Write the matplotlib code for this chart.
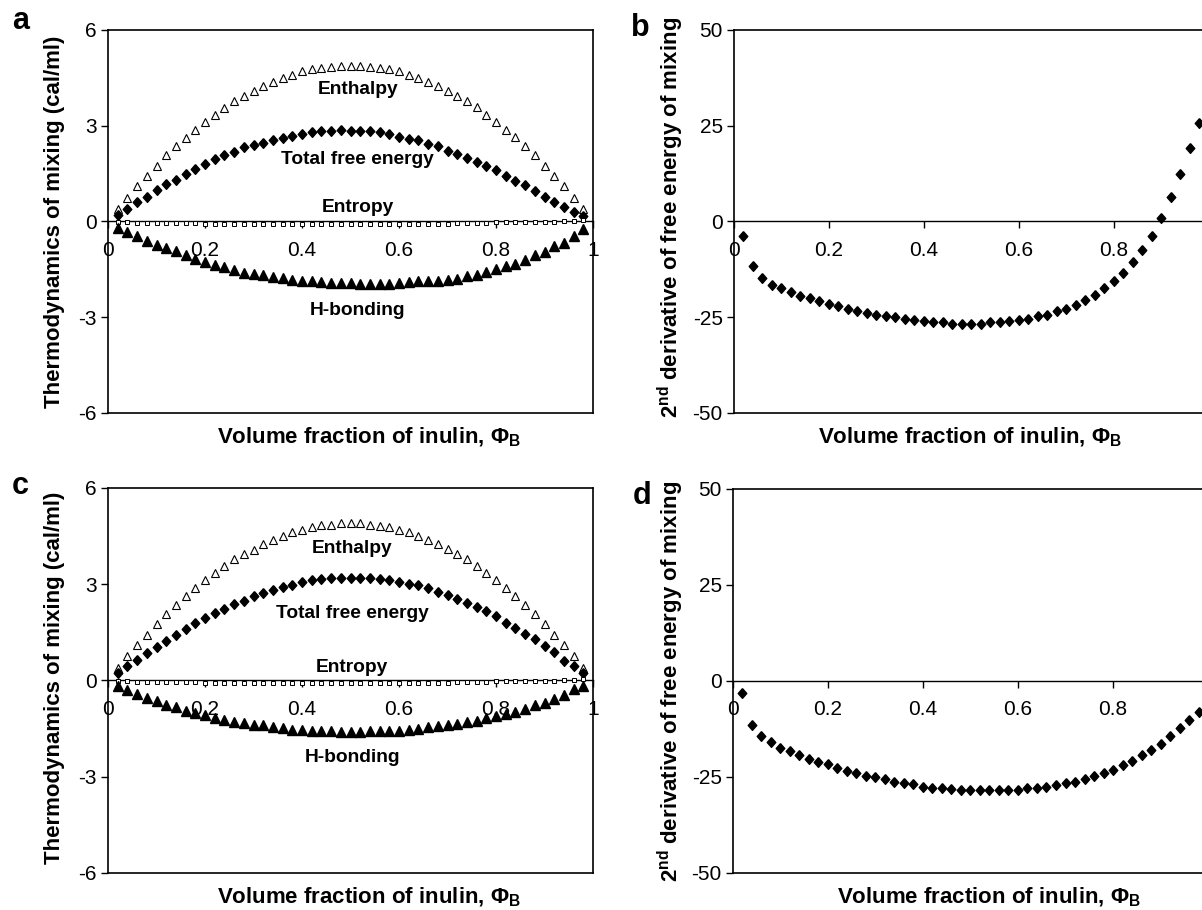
import matplotlib.pyplot as plt

# -----------------------------
# Global style
# -----------------------------
plt.rcParams["font.family"] = ["Liberation Sans", "DejaVu Sans"]
plt.rcParams["mathtext.fontset"] = "custom"
plt.rcParams["mathtext.rm"] = "Liberation Sans"
plt.rcParams["mathtext.bf"] = "Liberation Sans:bold"

# -----------------------------
# Data
# -----------------------------
phi_b = [0.02, 0.04, 0.06, 0.08, 0.10, 0.12, 0.14, 0.16, 0.18, 0.20,
         0.22, 0.24, 0.26, 0.28, 0.30, 0.32, 0.34, 0.36, 0.38, 0.40,
         0.42, 0.44, 0.46, 0.48, 0.50, 0.52, 0.54, 0.56, 0.58, 0.60,
         0.62, 0.64, 0.66, 0.68, 0.70, 0.72, 0.74, 0.76, 0.78, 0.80,
         0.82, 0.84, 0.86, 0.88, 0.90, 0.92, 0.94, 0.96, 0.98]

# panel a
enthalpy_a = [0.39, 0.73, 1.10, 1.41, 1.74, 2.07, 2.35, 2.61, 2.85, 3.11,
              3.34, 3.57, 3.76, 3.94, 4.10, 4.25, 4.38, 4.49, 4.59, 4.70,
              4.77, 4.82, 4.85, 4.87, 4.87, 4.87, 4.85, 4.80, 4.77, 4.70,
              4.59, 4.49, 4.38, 4.25, 4.10, 3.94, 3.76, 3.58, 3.34, 3.13,
              2.87, 2.64, 2.35, 2.07, 1.75, 1.43, 1.12, 0.73, 0.39]
free_a = [0.20, 0.40, 0.60, 0.78, 0.99, 1.17, 1.30, 1.48, 1.64, 1.80,
          1.95, 2.07, 2.19, 2.32, 2.38, 2.47, 2.56, 2.63, 2.69, 2.73,
          2.79, 2.82, 2.84, 2.86, 2.84, 2.84, 2.82, 2.79, 2.75, 2.66,
          2.58, 2.54, 2.43, 2.35, 2.22, 2.12, 1.98, 1.86, 1.75, 1.60,
          1.43, 1.27, 1.13, 0.96, 0.78, 0.61, 0.45, 0.29, 0.16]
entropy_a = [-0.02, -0.03, -0.04, -0.06, -0.06, -0.06, -0.06, -0.06, -0.06, -0.08,
             -0.08, -0.08, -0.08, -0.08, -0.08, -0.08, -0.08, -0.08, -0.08, -0.08,
             -0.08, -0.08, -0.08, -0.08, -0.08, -0.08, -0.08, -0.08, -0.08, -0.08,
             -0.08, -0.08, -0.08, -0.08, -0.08, -0.06, -0.06, -0.06, -0.06, -0.03,
             -0.03, -0.03, -0.03, -0.03, -0.03, -0.02, 0.00, 0.02, 0.03]
hbond_a = [-0.19, -0.33, -0.47, -0.60, -0.73, -0.84, -0.94, -1.04, -1.17, -1.27,
           -1.36, -1.44, -1.51, -1.60, -1.64, -1.69, -1.74, -1.78, -1.83, -1.86,
           -1.88, -1.91, -1.93, -1.93, -1.93, -1.95, -1.95, -1.95, -1.95, -1.93,
           -1.91, -1.88, -1.88, -1.86, -1.83, -1.80, -1.72, -1.67, -1.57, -1.49,
           -1.41, -1.34, -1.20, -1.06, -0.96, -0.78, -0.66, -0.45, -0.24]

# panel b
second_deriv_b = [-3.7, -11.7, -14.8, -16.5, -17.4, -18.5, -19.4, -20.1, -20.9, -21.5,
                  -22.0, -22.8, -23.5, -23.9, -24.4, -24.8, -25.0, -25.4, -25.8, -26.1,
                  -26.3, -26.3, -26.7, -26.7, -26.7, -26.7, -26.3, -26.3, -26.1, -25.8,
                  -25.4, -24.8, -24.3, -23.5, -22.8, -21.7, -20.4, -19.1, -17.4, -15.5,
                  -13.5, -10.6, -7.4, -3.7, 1.0, 6.3, 12.3, 19.3, 25.8]

# panel c
enthalpy_c = [0.39, 0.75, 1.11, 1.43, 1.75, 2.06, 2.36, 2.63, 2.88, 3.14,
              3.35, 3.58, 3.79, 3.95, 4.08, 4.26, 4.38, 4.49, 4.62, 4.70,
              4.78, 4.83, 4.86, 4.90, 4.90, 4.90, 4.86, 4.82, 4.78, 4.70,
              4.62, 4.50, 4.38, 4.26, 4.10, 3.95, 3.78, 3.58, 3.35, 3.13,
              2.88, 2.63, 2.36, 2.07, 1.75, 1.43, 1.11, 0.75, 0.39]
free_c = [0.23, 0.44, 0.64, 0.85, 1.04, 1.23, 1.43, 1.59, 1.79, 1.94,
          2.10, 2.23, 2.39, 2.49, 2.62, 2.72, 2.83, 2.91, 2.98, 3.06,
          3.12, 3.15, 3.19, 3.20, 3.20, 3.20, 3.19, 3.15, 3.12, 3.06,
          3.01, 2.96, 2.88, 2.75, 2.67, 2.55, 2.42, 2.29, 2.15, 2.01,
          1.80, 1.64, 1.45, 1.28, 1.07, 0.88, 0.62, 0.44, 0.23]
entropy_c = [-0.02, -0.03, -0.04, -0.06, -0.06, -0.06, -0.06, -0.06, -0.06, -0.08,
             -0.08, -0.08, -0.08, -0.08, -0.08, -0.08, -0.08, -0.08, -0.08, -0.08,
             -0.08, -0.08, -0.08, -0.08, -0.08, -0.08, -0.08, -0.08, -0.08, -0.08,
             -0.08, -0.08, -0.08, -0.08, -0.08, -0.06, -0.06, -0.06, -0.06, -0.03,
             -0.03, -0.03, -0.03, -0.03, -0.03, -0.02, 0.00, 0.02, 0.03]
hbond_c = [-0.18, -0.31, -0.42, -0.54, -0.64, -0.75, -0.83, -0.94, -1.01, -1.09,
           -1.16, -1.23, -1.28, -1.33, -1.38, -1.40, -1.45, -1.48, -1.53, -1.53,
           -1.56, -1.56, -1.58, -1.61, -1.61, -1.61, -1.58, -1.58, -1.58, -1.56,
           -1.54, -1.51, -1.45, -1.42, -1.40, -1.35, -1.30, -1.25, -1.17, -1.11,
           -1.04, -0.99, -0.88, -0.78, -0.70, -0.57, -0.44, -0.28, -0.16]

# panel d
second_deriv_d = [-3.1, -11.4, -14.3, -16.0, -17.4, -18.3, -19.3, -20.4, -21.1, -21.7,
                  -22.6, -23.4, -23.9, -24.7, -25.0, -25.6, -26.3, -26.5, -26.9, -27.6,
                  -27.8, -28.0, -28.2, -28.4, -28.4, -28.4, -28.4, -28.4, -28.4, -28.4,
                  -28.0, -27.8, -27.6, -27.1, -26.7, -26.3, -25.6, -24.8, -23.9, -23.2,
                  -21.8, -20.9, -19.3, -18.0, -16.3, -14.3, -12.2, -10.1, -8.1]

x_ticks = [0, 0.2, 0.4, 0.6, 0.8, 1]
x_tick_labels = ["0", "0.2", "0.4", "0.6", "0.8", "1"]
x_tick_labels_cut = ["0", "0.2", "0.4", "0.6", "0.8", ""]  # "1" falls outside the image
thermo_ticks = [-6, -3, 0, 3, 6]
deriv_ticks = [-50, -25, 0, 25, 50]

curve_names = ["Enthalpy", "Total free energy", "Entropy", "H-bonding"]
# label positions (x, y) in data units, per thermo panel
label_pos_a = [(0.515, 4.13), (0.515, 1.94), (0.515, 0.45), (0.515, -2.80)]
label_pos_c = [(0.503, 4.11), (0.503, 2.09), (0.503, 0.40), (0.503, -2.40)]

thermo_ylabel = "Thermodynamics of mixing (cal/ml)"
deriv_ylabel = r"2$^{\mathbf{nd}}$ derivative of free energy of mixing"
x_label = r"Volume fraction of inulin, Φ$_{\mathbf{B}}$"

# tall diamond marker
diamond = [(0, 1), (0.88, 0), (0, -1), (-0.88, 0), (0, 1)]

# -----------------------------
# Figure
# -----------------------------
fig = plt.figure(figsize=(12.02, 9.10), dpi=100)


def style_axes(ax, ylo, yhi, yticks, xlabels):
    ax.set_xlim(0, 1)
    ax.set_ylim(ylo, yhi)
    ax.spines["bottom"].set_position(("data", 0))
    ax.spines["bottom"].set_linewidth(1.0)
    for s in ["left", "top", "right"]:
        ax.spines[s].set_linewidth(1.2)
    # closing line of the box at the bottom
    ax.axhline(ylo, color="black", linewidth=1.2, clip_on=False)
    ax.set_xticks(x_ticks)
    ax.set_xticklabels(xlabels)
    ax.set_yticks(yticks)
    ax.set_yticklabels([str(t) for t in yticks])
    ax.tick_params(axis="x", direction="out", length=5, width=1, pad=9, labelsize=15)
    ax.tick_params(axis="y", direction="out", length=5, width=1, pad=3, labelsize=15)


def thermo_panel(rect, enth, free, entr, hb, label_pos, letter, letter_xy, xlab_x, ylab_xy):
    ax = fig.add_axes(rect)
    style_axes(ax, -6, 6, thermo_ticks, x_tick_labels)
    ax.plot(phi_b, enth, ls="none", marker="^", ms=6, mfc="white", mec="black", mew=0.8, zorder=3)
    ax.plot(phi_b, free, ls="none", marker=diamond, ms=7, color="black", zorder=3)
    ax.plot(phi_b, entr, ls="none", marker="s", ms=3.4, mfc="white", mec="black", mew=0.7, zorder=3)
    ax.plot(phi_b, hb, ls="none", marker="^", ms=6.5, color="black", zorder=3)
    for name, (lx, ly) in zip(curve_names, label_pos):
        ax.text(lx, ly, name, ha="center", va="center", fontsize=13.8, fontweight="bold")
    ax.text(xlab_x, -0.063, x_label, transform=ax.transAxes, ha="center", va="center",
            fontsize=16, fontweight="bold")
    ax.text(ylab_xy[0], ylab_xy[1], thermo_ylabel, transform=ax.transAxes, rotation=90,
            ha="center", va="center", fontsize=16, fontweight="bold")
    fig.text(letter_xy[0], letter_xy[1], letter, ha="center", va="center",
             fontsize=22, fontweight="bold")
    return ax


def deriv_panel(rect, vals, letter, letter_xy, xlab_x, ylab_xy):
    ax = fig.add_axes(rect)
    style_axes(ax, -50, 50, deriv_ticks, x_tick_labels_cut)
    ax.plot(phi_b, vals, ls="none", marker=diamond, ms=7, color="black", zorder=3, clip_on=False)
    ax.text(xlab_x, -0.063, x_label, transform=ax.transAxes, ha="center", va="center",
            fontsize=16, fontweight="bold")
    ax.text(ylab_xy[0], ylab_xy[1], deriv_ylabel, transform=ax.transAxes, rotation=90,
            ha="center", va="center", fontsize=16, fontweight="bold")
    fig.text(letter_xy[0], letter_xy[1], letter, ha="center", va="center",
             fontsize=22, fontweight="bold")
    return ax


thermo_panel([0.0899, 0.5462, 0.4035, 0.4209], enthalpy_a, free_a, entropy_a, hbond_a,
             label_pos_a, "a", (0.017, 0.977), 0.538, (-0.111, 0.50))
deriv_panel([0.6106, 0.5462, 0.3952, 0.4209], second_deriv_b,
            "b", (0.533, 0.969), 0.497, (-0.133, 0.51))
thermo_panel([0.0899, 0.0407, 0.4035, 0.4231], enthalpy_c, free_c, entropy_c, hbond_c,
             label_pos_c, "c", (0.017, 0.466), 0.538, (-0.111, 0.506))
deriv_panel([0.6098, 0.0407, 0.3952, 0.4220], second_deriv_d,
            "d", (0.534, 0.455), 0.539, (-0.13, 0.499))

fig.savefig("out.png", dpi=100)
